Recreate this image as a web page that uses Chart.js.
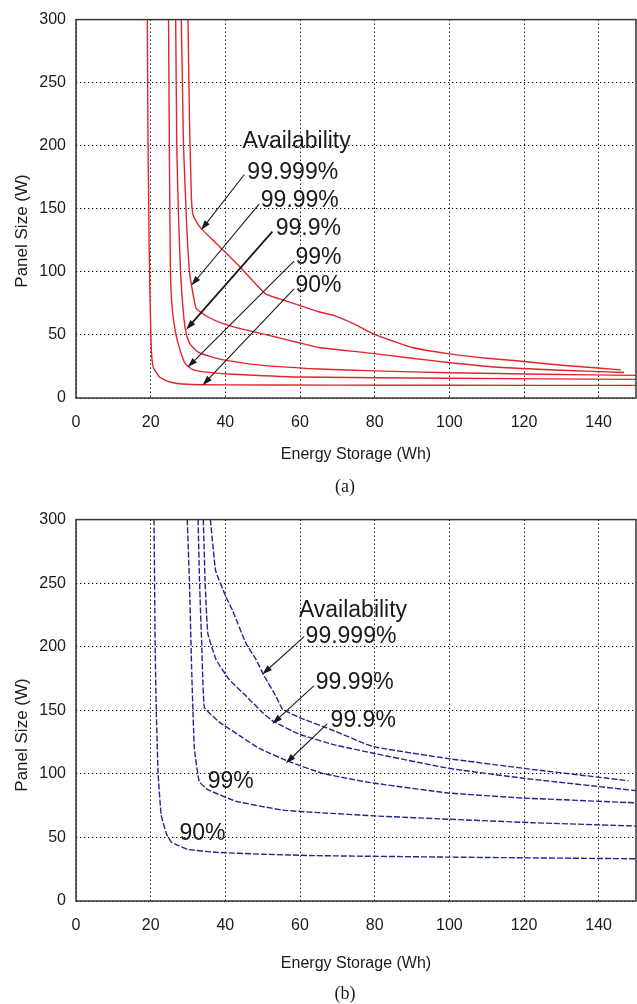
<!DOCTYPE html>
<html>
<head>
<meta charset="utf-8">
<title>Panel size vs energy storage</title>
<script src="https://cdn.jsdelivr.net/npm/chart.js@4.4.1/dist/chart.umd.min.js"></script>
<style>
  html, body { margin: 0; padding: 0; background: #fff; }
  canvas { display: block; }
</style>
</head>
<body>
<canvas id="chartA" width="637" height="500"></canvas>
<canvas id="chartB" width="637" height="504"></canvas>
<script>
// Axis ticks shared by both panels.
var energyTicks = [0, 20, 40, 60, 80, 100, 120, 140];
var panelTicks = [0, 50, 100, 150, 200, 250, 300];
var availability = ['90%', '99%', '99.9%', '99.99%', '99.999%'];

// (a) panel size (W) needed for a given storage (Wh), one curve per availability.
var energyA90 = [19.1, 19.3, 19.6, 19.9, 20.2, 20.7, 22.4, 25.1, 29.8, 40, 70, 100, 150];
var panelA90 = [300, 200, 120, 70, 37, 24.3, 16.6, 12.7, 10.9, 10.4, 10.2, 10.1, 10.0];
var energyA99 = [24.8, 25.0, 25.3, 25.8, 26.8, 28.2, 29.3, 31.3, 34.9, 42, 60, 100, 150];
var panelA99 = [300, 200, 100, 70, 50, 35, 27, 22.5, 20.5, 18.8, 16.6, 15.6, 14.8];
var energyA999 = [26.7, 27.0, 27.4, 28.0, 28.9, 29.6, 30.6, 32.9, 38.5, 48, 65, 80, 100, 125, 150];
var panelA999 = [300, 200, 150, 100, 63, 50, 42.5, 36, 30.8, 26.5, 23, 21.5, 20, 18.8, 17.9];
var energyA9999 = [28.2, 28.5, 28.8, 29.6, 30.4, 31.5, 32.2, 34.9, 38.5, 44, 50.8, 59.7, 65, 77.5, 90, 99.7, 113, 130, 146.8];
var panelA9999 = [300, 250, 200, 140, 100, 80, 71, 65, 60, 55, 50.3, 43.8, 40, 36, 31.5, 28.2, 24.4, 22, 20.2];
var energyA99999 = [30.0, 30.4, 30.9, 31.3, 32.2, 33.5, 36.6, 39.3, 43.7, 47.3, 50.8, 57, 65, 69, 75, 79.5, 85, 90, 100, 110, 118, 130, 146];
var panelA99999 = [300, 220, 160, 146, 140, 134.5, 125.4, 117.6, 104.7, 93, 82.6, 76.2, 68.4, 65.5, 58, 51, 45, 40, 35, 31.5, 29.5, 26, 22.3];

// (b) same study, second load profile.
var energyB90 = [20.9, 21.2, 21.5, 22.0, 22.8, 24.2, 25.5, 27.5, 30, 37.5, 50, 64, 100, 150];
var panelB90 = [300, 200, 150, 100, 68, 53, 46.5, 43.5, 40.5, 38.3, 36.8, 35.7, 34.5, 33.2];
var energyB99 = [29.8, 30.4, 31.0, 31.7, 33.0, 35.3, 42.8, 55.3, 65, 81, 100, 122, 150];
var panelB99 = [300, 250, 180, 120, 94, 87.6, 78.5, 71.5, 69.5, 66.8, 64.3, 61.6, 59];
var energyB999 = [32.7, 33.1, 33.7, 34.4, 38.4, 43.7, 49.1, 57.1, 65.9, 78, 99.7, 119.7, 150];
var panelB999 = [300, 250, 200, 152.3, 140.7, 130.3, 120, 109.6, 100.5, 93.5, 85, 81, 77.2];
var energyB9999 = [34.1, 34.6, 35.3, 37.5, 41, 45.5, 49.9, 53, 60, 69, 80, 99.7, 119.7, 150];
var panelB9999 = [300, 250, 210.6, 190, 174.3, 161.4, 148.4, 141, 131, 123, 116, 104.4, 96.6, 86.8];
var energyB99999 = [36.0, 37.4, 40.2, 41.9, 45.5, 48.2, 50.4, 53.5, 55.3, 59.7, 68.6, 79.5, 99.7, 119.7, 148];
var panelB99999 = [300, 259.8, 239, 228.7, 202.8, 190, 177, 161.4, 151, 144.5, 134.5, 121.5, 112, 104.4, 94.6];

var FONT = '"Liberation Sans", Arial, Helvetica, sans-serif';
var INK = '#1a1a1a';

function points(xs, ys) {
  return xs.map(function (x, i) { return { x: x, y: ys[i] }; });
}

function series(label, xs, ys, style) {
  return Object.assign({
    label: label,
    data: points(xs, ys),
    pointRadius: 0,
    fill: false
  }, style);
}

// Draws a thin line ending in a filled arrow head at (x2, y2).
function drawArrow(ctx, x1, y1, x2, y2, width) {
  var ang = Math.atan2(y2 - y1, x2 - x1);
  var len = 10, half = 3.2;
  var cos = Math.cos(ang), sin = Math.sin(ang);
  ctx.lineWidth = width;
  ctx.beginPath();
  ctx.moveTo(x1, y1);
  ctx.lineTo(x2 - cos * len * 0.7, y2 - sin * len * 0.7);
  ctx.stroke();
  ctx.beginPath();
  ctx.moveTo(x2, y2);
  ctx.lineTo(x2 - len * cos + half * sin, y2 - len * sin - half * cos);
  ctx.lineTo(x2 - len * cos - half * sin, y2 - len * sin + half * cos);
  ctx.closePath();
  ctx.fill();
}

/**
 * Frame, rotated y title, caption and the availability call-outs.
 */
var figureDecor = {
  id: 'figureDecor',
  afterDraw: function (chart, args, opts) {
    var ctx = chart.ctx;
    var area = chart.chartArea;
    var sx = chart.scales.x;
    var sy = chart.scales.y;

    ctx.save();

    // Closed box round the plot.
    ctx.strokeStyle = '#333';
    ctx.lineWidth = 1.5;
    ctx.strokeRect(area.left, area.top, area.right - area.left, area.bottom - area.top);

    // Call-out texts and arrows, anchored in data units.
    ctx.fillStyle = INK;
    ctx.strokeStyle = INK;
    ctx.font = '23px ' + FONT;
    ctx.textAlign = 'left';
    ctx.textBaseline = 'middle';
    opts.notes.forEach(function (n) {
      ctx.fillText(n.text, sx.getPixelForValue(n.at[0]), sy.getPixelForValue(n.at[1]));
      if (n.tail) {
        drawArrow(ctx,
          sx.getPixelForValue(n.tail[0]), sy.getPixelForValue(n.tail[1]),
          sx.getPixelForValue(n.head[0]), sy.getPixelForValue(n.head[1]),
          n.bold ? 1.8 : 1.1);
      }
    });

    // Caption under the axis title.
    ctx.font = '18px "Liberation Serif", "Times New Roman", serif';
    ctx.textAlign = 'center';
    ctx.fillText(opts.caption, opts.captionX, opts.captionY);

    // Y axis title, set a little below the plot centre.
    ctx.translate(22, opts.yTitleY);
    ctx.rotate(-Math.PI / 2);
    ctx.font = '17px ' + FONT;
    ctx.fillText('Panel Size (W)', 0, 0);

    ctx.restore();
  }
};

function makeChart(id, datasets, deco, layout) {
  var canvas = document.getElementById(id);
  return new Chart(canvas, {
    type: 'line',
    data: { datasets: datasets },
    plugins: [figureDecor],
    options: {
      responsive: false,
      animation: false,
      devicePixelRatio: 1,
      layout: { padding: { top: layout.top, right: 1, bottom: 0, left: 0 } },
      scales: {
        x: {
          type: 'linear',
          min: 0,
          max: 150,
          afterBuildTicks: function (scale) {
            scale.ticks = energyTicks.map(function (v) { return { value: v }; });
          },
          afterFit: function (scale) { scale.height = layout.xHeight; },
          grid: { color: '#000', lineWidth: 1, drawTicks: false },
          border: { display: false, dash: [1.3, 2.7] },
          ticks: { color: INK, font: { size: 16 }, padding: 15, maxRotation: 0 },
          title: {
            display: true,
            text: 'Energy Storage (Wh)',
            color: INK,
            font: { size: 16 },
            padding: { top: 0, bottom: layout.xTitlePad }
          }
        },
        y: {
          min: 0,
          max: 300,
          afterBuildTicks: function (scale) {
            scale.ticks = panelTicks.map(function (v) { return { value: v }; });
          },
          afterFit: function (scale) { scale.width = 76; },
          grid: { color: '#000', lineWidth: 1, drawTicks: false },
          border: { display: false, dash: [1.3, 2.7] },
          ticks: { color: INK, font: { size: 16 }, padding: 10 }
        }
      },
      plugins: {
        legend: { display: false },
        tooltip: { enabled: false },
        figureDecor: deco
      }
    }
  });
}

Chart.defaults.font.family = FONT;

var solidRed = { borderColor: '#e3242b', borderWidth: 1.4, tension: 0.15 };
var dashedNavy = { borderColor: '#25258c', borderWidth: 1.4, borderDash: [6, 2], tension: 0.1 };

makeChart('chartA', [
  series(availability[0], energyA90, panelA90, solidRed),
  series(availability[1], energyA99, panelA99, solidRed),
  series(availability[2], energyA999, panelA999, solidRed),
  series(availability[3], energyA9999, panelA9999, solidRed),
  series(availability[4], energyA99999, panelA99999, solidRed)
], {
  caption: '(a)',
  captionX: 345,
  captionY: 487,
  yTitleY: 231,
  notes: [
    { text: 'Availability', at: [44.6, 203.2] },
    { text: availability[4], at: [45.9, 178.8], tail: [45.1, 177.2], head: [33.5, 133.1] },
    { text: availability[3], at: [49.5, 156.5], tail: [49.1, 153.9], head: [30.9, 89.1] },
    { text: availability[2], at: [53.5, 134.5], tail: [52.6, 131.9], head: [29.5, 54.2], bold: true },
    { text: availability[1], at: [58.8, 111.1], tail: [58.4, 108.6], head: [29.9, 24.3] },
    { text: availability[0], at: [58.8, 89.1], tail: [58.4, 86.5], head: [33.9, 10.1] }
  ]
}, { top: 12, xHeight: 102, xTitlePad: 36 });

makeChart('chartB', [
  series(availability[0], energyB90, panelB90, dashedNavy),
  series(availability[1], energyB99, panelB99, dashedNavy),
  series(availability[2], energyB999, panelB999, dashedNavy),
  series(availability[3], energyB9999, panelB9999, dashedNavy),
  series(availability[4], energyB99999, panelB99999, dashedNavy)
], {
  caption: '(b)',
  captionX: 345,
  captionY: 494,
  yTitleY: 235,
  notes: [
    { text: 'Availability', at: [59.7, 228.7] },
    { text: availability[4], at: [61.5, 208], tail: [61.1, 208], head: [49.9, 178.2] },
    { text: availability[3], at: [64.2, 171.8], tail: [63.7, 169.2], head: [52.6, 139.4] },
    { text: availability[2], at: [68.2, 142], tail: [67.3, 139.4], head: [56.2, 108.3] },
    { text: availability[1], at: [35.3, 94] },
    { text: availability[0], at: [27.7, 52.6] }
  ]
}, { top: 15, xHeight: 103, xTitlePad: 31 });
</script>
</body>
</html>
